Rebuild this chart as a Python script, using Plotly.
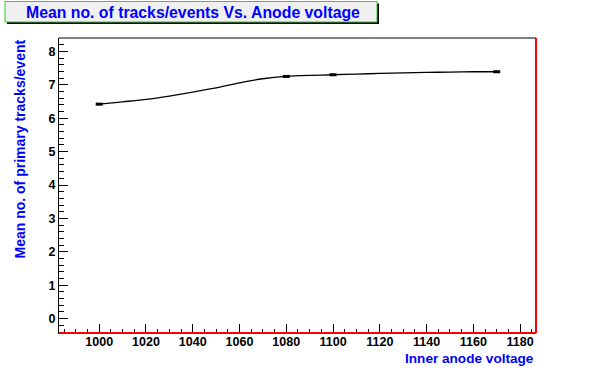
import plotly.graph_objects as go

# Smooth curve (inner anode voltage vs mean tracks/event)
curve_voltage = [1000, 1010, 1020, 1030, 1040, 1050, 1060, 1070, 1080, 1090,
                 1100, 1110, 1120, 1130, 1140, 1150, 1160, 1170]
curve_tracks = [6.42, 6.49, 6.56, 6.66, 6.78, 6.91, 7.06, 7.18, 7.25, 7.28,
                7.30, 7.32, 7.34, 7.355, 7.37, 7.38, 7.39, 7.39]

# Measured points with small error bars
point_voltage = [1000, 1080, 1100, 1170]
point_tracks = [6.42, 7.25, 7.30, 7.39]
point_err_t = [0.03, 0.03, 0.03, 0.03]

title_text = "Mean no. of tracks/events Vs. Anode voltage"
xtitle = "Inner anode voltage"
ytitle = "Mean no. of primary tracks/event"

W, H = 596, 372
L, R, T, B = 59, 536, 38, 333
pw, ph = R - L, B - T

def px(x):
    return (x - L) / pw

def py(y):
    return (B - y) / ph

fig = go.Figure()
fig.add_trace(go.Scatter(
    x=curve_voltage, y=curve_tracks, mode="lines",
    line=dict(color="black", width=1.3, shape="spline", smoothing=0.6),
    hoverinfo="skip", showlegend=False))
fig.add_trace(go.Scatter(
    x=point_voltage, y=point_tracks, mode="markers",
    marker=dict(symbol="line-ew-open", size=5, color="black",
                line=dict(color="black", width=3)),
    error_y=dict(type="data", array=point_err_t, color="black", thickness=1, width=0),
    showlegend=False))

tickfont = dict(family="Liberation Sans, Arial, sans-serif", size=12.5, color="black", weight="bold")

fig.update_layout(
    width=W, height=H,
    margin=dict(l=L, r=W - R, t=T, b=H - B),
    paper_bgcolor="white", plot_bgcolor="white",
    xaxis=dict(range=[982.8, 1186.8], showgrid=False, zeroline=False,
               showline=True, linecolor="black", linewidth=1,
               ticks="inside", ticklen=9, tickcolor="black", tickwidth=1,
               tick0=1000, dtick=20, tickfont=tickfont, ticklabelstandoff=-3,
               minor=dict(ticks="inside", ticklen=4.5, dtick=5, tickcolor="black", showgrid=False)),
    yaxis=dict(range=[-0.43, 8.4], showgrid=False, zeroline=False,
               showline=True, linecolor="black", linewidth=1,
               ticks="inside", ticklen=9, tickcolor="black", tickwidth=1,
               tick0=0, dtick=1, tickfont=tickfont,
               minor=dict(ticks="inside", ticklen=4.5, dtick=0.2, tickcolor="black", showgrid=False)),
    shapes=[
        dict(type="line", xref="paper", yref="paper", x0=0, x1=1, y0=1, y1=1,
             line=dict(color="black", width=1)),
        dict(type="line", xref="paper", yref="paper", x0=1, x1=1, y0=0, y1=1,
             line=dict(color="red", width=2)),
        dict(type="line", xref="paper", yref="paper", x0=0, x1=1, y0=0, y1=0,
             line=dict(color="red", width=2)),
        dict(type="rect", xref="paper", yref="paper",
             x0=px(7), x1=px(379), y0=py(24), y1=py(3.5),
             fillcolor="black", line=dict(width=0)),
        dict(type="rect", xref="paper", yref="paper",
             x0=px(5), x1=px(377), y0=py(22), y1=py(1.5),
             fillcolor="#f0f0f0", line=dict(color="#33cc33", width=1)),
    ],
    annotations=[
        dict(text=title_text, xref="paper", yref="paper", x=px(193), y=py(12),
             xanchor="center", yanchor="middle", showarrow=False,
             font=dict(family="Liberation Sans, Arial, sans-serif", size=15.8,
                       color="#0000ff", weight="bold")),
        dict(text=xtitle, xref="paper", yref="paper", x=1, y=py(358),
             xanchor="right", yanchor="middle", showarrow=False,
             font=dict(family="Liberation Sans, Arial, sans-serif", size=13.6,
                       color="#0000ff", weight="bold")),
        dict(text=ytitle, xref="paper", yref="paper", x=px(19), y=1,
             xanchor="center", yanchor="top", textangle=-90, showarrow=False,
             font=dict(family="Liberation Sans, Arial, sans-serif", size=14,
                       color="#0000ff", weight="bold")),
    ],
)

fig.write_html("out.html", config={"displayModeBar": False},
               post_script="document.body.style.margin='0';document.body.style.padding='0';")
